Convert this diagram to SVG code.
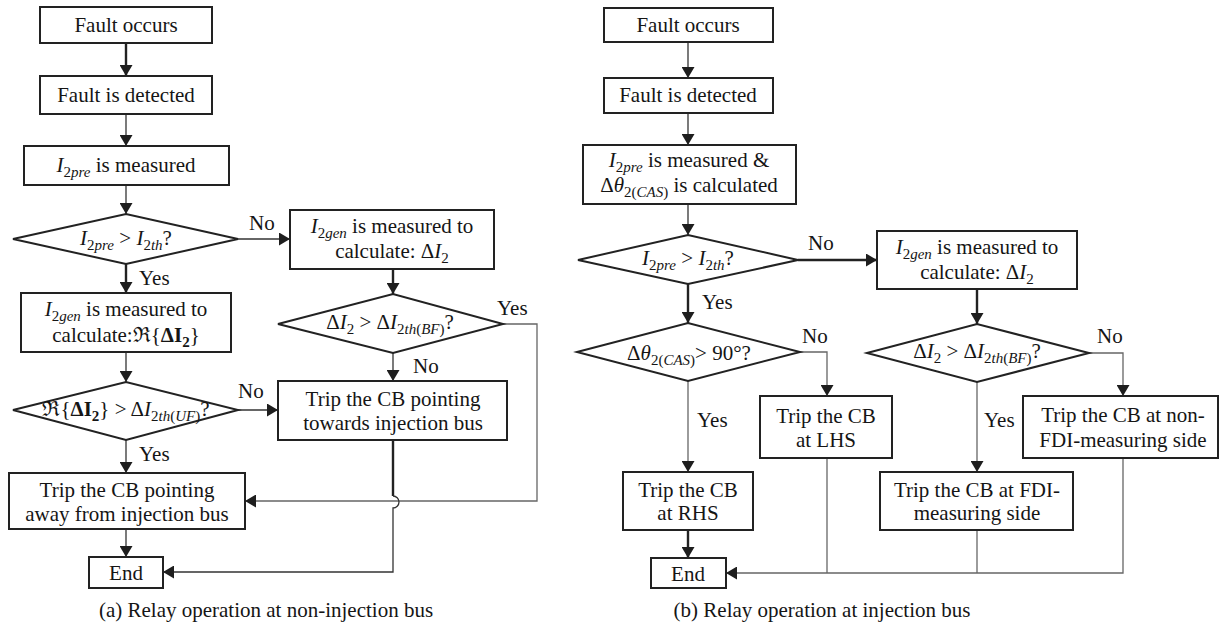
<svg xmlns="http://www.w3.org/2000/svg" width="1220" height="629" viewBox="0 0 1220 629" font-family="'Liberation Serif', 'Times New Roman', serif">
  <style>
    .box { fill: #fff; stroke: #222; stroke-width: 2; }
    .t { font-size: 21px; fill: #151515; text-anchor: middle; }
    .l { font-size: 21px; fill: #151515; }
    .i { font-style: italic; }
    .b { font-weight: bold; }
    .s { font-size: 15px; }
    .thick { fill: none; stroke: #222; stroke-width: 2.4; }
    .thin { fill: none; stroke: #333; stroke-width: 1.3; }
    .grey { fill: none; stroke: #666; stroke-width: 1.3; }
  </style>
  <defs>
    <marker id="arr" markerUnits="userSpaceOnUse" viewBox="0 0 11 13" refX="11" refY="6.5" markerWidth="11" markerHeight="13" orient="auto">
      <path d="M0,0 L11,6.5 L0,13 Z" fill="#1e1e1e"/>
    </marker>
  </defs>
  <rect width="1220" height="629" fill="#fff"/>

  <!-- connectors -->
  <g id="connectors">
    <!-- (a) non-injection bus -->
    <path class="thick" d="M126,43 V76" marker-end="url(#arr)"/>
    <path class="thin" d="M126,114 V146" marker-end="url(#arr)"/>
    <path class="thin" d="M126,185 V214" marker-end="url(#arr)"/>
    <path class="thin" d="M238,239 H290" marker-end="url(#arr)"/>
    <path class="thick" d="M126,264 V293" marker-end="url(#arr)"/>
    <path class="thin" d="M126,352 V382" marker-end="url(#arr)"/>
    <path class="thin" d="M238,410 H278" marker-end="url(#arr)"/>
    <path class="thin" d="M126,440 V473" marker-end="url(#arr)"/>
    <path class="thin" d="M126,529 V557" marker-end="url(#arr)"/>
    <path class="thick" d="M393,269 V294" marker-end="url(#arr)"/>
    <path class="thin" d="M393,353 V381" marker-end="url(#arr)"/>
    <path class="grey" d="M503,324 H537 V501 H245" marker-end="url(#arr)"/>
    <path class="thick" d="M393,440 V496"/>
    <path class="thin" d="M393,496 A6,6 0 0 1 393,508 V572 H163" marker-end="url(#arr)"/>

    <!-- (b) injection bus -->
    <path class="thin" d="M688,42 V78" marker-end="url(#arr)"/>
    <path class="thin" d="M688,113 V145" marker-end="url(#arr)"/>
    <path class="thin" d="M688,204 V235" marker-end="url(#arr)"/>
    <path class="thick" d="M798,260 H877" marker-end="url(#arr)"/>
    <path class="thick" d="M688,284 V323" marker-end="url(#arr)"/>
    <path class="grey" d="M800,352 H827 V396" marker-end="url(#arr)"/>
    <path class="grey" d="M688,381 V472" marker-end="url(#arr)"/>
    <path class="thick" d="M688,530 V558" marker-end="url(#arr)"/>
    <path class="thick" d="M977,289 V324" marker-end="url(#arr)"/>
    <path class="grey" d="M1089,353 H1123 V396" marker-end="url(#arr)"/>
    <path class="grey" d="M977,382 V472" marker-end="url(#arr)"/>
    <path class="grey" d="M827,458 V573"/>
    <path class="grey" d="M977,530 V573"/>
    <path class="grey" d="M1123,458 V573 H726" marker-end="url(#arr)"/>
  </g>

  <!-- branch labels -->
  <g id="branch-labels">
    <text class="l" x="249" y="230">No</text>
    <text class="l" x="139" y="285">Yes</text>
    <text class="l" x="238" y="398">No</text>
    <text class="l" x="139" y="461">Yes</text>
    <text class="l" x="497" y="315">Yes</text>
    <text class="l" x="413" y="373">No</text>

    <text class="l" x="808" y="250">No</text>
    <text class="l" x="702" y="309">Yes</text>
    <text class="l" x="802" y="343">No</text>
    <text class="l" x="697" y="427">Yes</text>
    <text class="l" x="1097" y="343">No</text>
    <text class="l" x="984" y="427">Yes</text>
  </g>

  <!-- (a) nodes -->
  <g id="a-fault-occurs">
    <rect class="box" x="40" y="7" width="172" height="36"/>
    <text class="t" x="126" y="32">Fault occurs</text>
  </g>
  <g id="a-fault-detected">
    <rect class="box" x="40" y="76" width="172" height="38"/>
    <text class="t" x="126" y="102">Fault is detected</text>
  </g>
  <g id="a-i2pre">
    <rect class="box" x="24" y="146" width="205" height="39"/>
    <text class="t" x="126" y="172"><tspan class="i">I</tspan><tspan class="s" dy="5">2<tspan class="i">pre</tspan></tspan><tspan dy="-5"> is measured</tspan></text>
  </g>
  <g id="a-check-i2pre">
    <polygon class="box" points="13,239 126,214 238,239 126,264"/>
    <text class="t" x="126" y="245"><tspan class="i">I</tspan><tspan class="s" dy="5">2<tspan class="i">pre</tspan></tspan><tspan dy="-5"> &gt; </tspan><tspan class="i">I</tspan><tspan class="s" dy="5">2<tspan class="i">th</tspan></tspan><tspan dy="-5">?</tspan></text>
  </g>
  <g id="a-i2gen-real">
    <rect class="box" x="21" y="293" width="210" height="59"/>
    <text class="t" x="126" y="316"><tspan class="i">I</tspan><tspan class="s" dy="5">2<tspan class="i">gen</tspan></tspan><tspan dy="-5"> is measured to</tspan></text>
    <text class="t" x="126" y="342">calculate:ℜ{<tspan class="b">ΔI</tspan><tspan class="b s" dy="5">2</tspan><tspan dy="-5">}</tspan></text>
  </g>
  <g id="a-check-uf">
    <polygon class="box" points="13,410 126,382 238,410 126,440"/>
    <text class="t" x="126" y="416">ℜ{<tspan class="b">ΔI</tspan><tspan class="b s" dy="5">2</tspan><tspan dy="-5">} &gt; Δ</tspan><tspan class="i">I</tspan><tspan class="s" dy="5">2<tspan class="i">th</tspan>(<tspan class="i">UF</tspan>)</tspan><tspan dy="-5">?</tspan></text>
  </g>
  <g id="a-trip-away">
    <rect class="box" x="9" y="473" width="236" height="56"/>
    <text class="t" x="127" y="497">Trip the CB pointing</text>
    <text class="t" x="127" y="521">away from injection bus</text>
  </g>
  <g id="a-end">
    <rect class="box" x="89" y="557" width="74" height="31"/>
    <text class="t" x="126" y="580">End</text>
  </g>
  <g id="a-i2gen-delta">
    <rect class="box" x="290" y="210" width="204" height="59"/>
    <text class="t" x="392" y="233"><tspan class="i">I</tspan><tspan class="s" dy="5">2<tspan class="i">gen</tspan></tspan><tspan dy="-5"> is measured to</tspan></text>
    <text class="t" x="392" y="258">calculate: Δ<tspan class="i">I</tspan><tspan class="s" dy="5">2</tspan></text>
  </g>
  <g id="a-check-bf">
    <polygon class="box" points="278,324 393,294 503,324 393,353"/>
    <text class="t" x="390" y="329">Δ<tspan class="i">I</tspan><tspan class="s" dy="5">2</tspan><tspan dy="-5"> &gt; Δ</tspan><tspan class="i">I</tspan><tspan class="s" dy="5">2<tspan class="i">th</tspan>(<tspan class="i">BF</tspan>)</tspan><tspan dy="-5">?</tspan></text>
  </g>
  <g id="a-trip-towards">
    <rect class="box" x="278" y="381" width="229" height="59"/>
    <text class="t" x="393" y="406">Trip the CB pointing</text>
    <text class="t" x="393" y="430">towards injection bus</text>
  </g>

  <!-- (b) nodes -->
  <g id="b-fault-occurs">
    <rect class="box" x="604" y="8" width="169" height="34"/>
    <text class="t" x="688" y="32">Fault occurs</text>
  </g>
  <g id="b-fault-detected">
    <rect class="box" x="604" y="78" width="169" height="35"/>
    <text class="t" x="688" y="102">Fault is detected</text>
  </g>
  <g id="b-i2pre-angle">
    <rect class="box" x="583" y="145" width="213" height="59"/>
    <text class="t" x="689" y="167"><tspan class="i">I</tspan><tspan class="s" dy="5">2<tspan class="i">pre</tspan></tspan><tspan dy="-5"> is measured &amp;</tspan></text>
    <text class="t" x="689" y="192">Δ<tspan class="i">θ</tspan><tspan class="s" dy="5">2(<tspan class="i">CAS</tspan>)</tspan><tspan dy="-5"> is calculated</tspan></text>
  </g>
  <g id="b-check-i2pre">
    <polygon class="box" points="578,260 688,235 798,260 688,284"/>
    <text class="t" x="688" y="265"><tspan class="i">I</tspan><tspan class="s" dy="5">2<tspan class="i">pre</tspan></tspan><tspan dy="-5"> &gt; </tspan><tspan class="i">I</tspan><tspan class="s" dy="5">2<tspan class="i">th</tspan></tspan><tspan dy="-5">?</tspan></text>
  </g>
  <g id="b-check-angle">
    <polygon class="box" points="577,352 688,323 800,352 688,381"/>
    <text class="t" x="689" y="360">Δ<tspan class="i">θ</tspan><tspan class="s" dy="5">2(<tspan class="i">CAS</tspan>)</tspan><tspan dy="-5">&gt; 90°?</tspan></text>
  </g>
  <g id="b-trip-lhs">
    <rect class="box" x="760" y="396" width="132" height="62"/>
    <text class="t" x="826" y="423">Trip the CB</text>
    <text class="t" x="826" y="447">at LHS</text>
  </g>
  <g id="b-trip-rhs">
    <rect class="box" x="623" y="472" width="130" height="58"/>
    <text class="t" x="688" y="497">Trip the CB</text>
    <text class="t" x="688" y="520">at RHS</text>
  </g>
  <g id="b-end">
    <rect class="box" x="651" y="558" width="75" height="30"/>
    <text class="t" x="688" y="581">End</text>
  </g>
  <g id="b-i2gen-delta">
    <rect class="box" x="877" y="231" width="200" height="58"/>
    <text class="t" x="977" y="254"><tspan class="i">I</tspan><tspan class="s" dy="5">2<tspan class="i">gen</tspan></tspan><tspan dy="-5"> is measured to</tspan></text>
    <text class="t" x="977" y="279">calculate: Δ<tspan class="i">I</tspan><tspan class="s" dy="5">2</tspan></text>
  </g>
  <g id="b-check-bf">
    <polygon class="box" points="867,353 977,324 1089,353 977,382"/>
    <text class="t" x="977" y="358">Δ<tspan class="i">I</tspan><tspan class="s" dy="5">2</tspan><tspan dy="-5"> &gt; Δ</tspan><tspan class="i">I</tspan><tspan class="s" dy="5">2<tspan class="i">th</tspan>(<tspan class="i">BF</tspan>)</tspan><tspan dy="-5">?</tspan></text>
  </g>
  <g id="b-trip-non-fdi">
    <rect class="box" x="1023" y="396" width="195" height="62"/>
    <text class="t" x="1123" y="422">Trip the CB at non-</text>
    <text class="t" x="1123" y="447">FDI-measuring side</text>
  </g>
  <g id="b-trip-fdi">
    <rect class="box" x="880" y="472" width="193" height="58"/>
    <text class="t" x="977" y="497">Trip the CB at FDI-</text>
    <text class="t" x="977" y="520">measuring side</text>
  </g>

  <!-- captions -->
  <g id="captions">
    <text class="t" x="266" y="617">(a) Relay operation at non-injection bus</text>
    <text class="t" x="822" y="617">(b) Relay operation at injection bus</text>
  </g>
</svg>
